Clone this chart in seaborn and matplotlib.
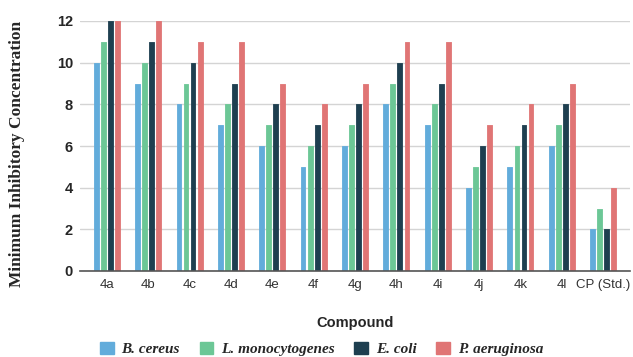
import matplotlib
matplotlib.use("Agg")
import matplotlib.pyplot as plt
import seaborn as sns
import pandas as pd

compounds = ["4a", "4b", "4c", "4d", "4e", "4f", "4g", "4h", "4i", "4j", "4k", "4l", "CP (Std.)"]
b_cereus = [10, 9, 8, 7, 6, 5, 6, 8, 7, 4, 5, 6, 2]
l_monocytogenes = [11, 10, 9, 8, 7, 6, 7, 9, 8, 5, 6, 7, 3]
e_coli = [12, 11, 10, 9, 8, 7, 8, 10, 9, 6, 7, 8, 2]
p_aeruginosa = [12, 12, 11, 11, 9, 8, 9, 11, 11, 7, 8, 9, 4]

organisms = ["B. cereus", "L. monocytogenes", "E. coli", "P. aeruginosa"]
colors = ["#62acdb", "#6cc796", "#1e3f50", "#e07575"]

rows = []
for org, vals in zip(organisms, [b_cereus, l_monocytogenes, e_coli, p_aeruginosa]):
    for c, v in zip(compounds, vals):
        rows.append({"Compound": c, "Organism": org, "MIC": v})
df = pd.DataFrame(rows)

sns.set_theme(style="white")
plt.rcParams["font.family"] = ["Liberation Sans", "DejaVu Sans"]

fig = plt.figure(figsize=(6.33, 3.57), dpi=100)
ax = fig.add_axes([80 / 633, 1 - 271 / 357, 550 / 633, 250 / 357])

sns.barplot(data=df, x="Compound", y="MIC", hue="Organism", order=compounds,
            hue_order=organisms, palette=colors, width=0.68, gap=0.32,
            saturation=1, ax=ax, legend=False)

for p in ax.patches:
    p.set_edgecolor(p.get_facecolor())
    p.set_linewidth(0.6)
    p.set_joinstyle("round")

ax.set_ylim(0, 12)
ax.set_xlim(-0.65, 12.65)
ax.set_yticks([0, 2, 4, 6, 8, 10, 12])
ax.yaxis.grid(True, color="#d4d4d4", linewidth=1)
ax.set_axisbelow(True)
for s in ["top", "right", "left"]:
    ax.spines[s].set_visible(False)
ax.spines["bottom"].set_color("#555555")
ax.spines["bottom"].set_linewidth(1.2)
ax.tick_params(axis="y", length=0, pad=5, labelsize=10.5)
ax.tick_params(axis="x", length=0, pad=6, labelsize=9.5, labelcolor="#333333")
for t in ax.get_yticklabels():
    t.set_fontweight("bold")

ax.set_xlabel("Compound", fontsize=10.5, fontweight="bold")
ax.xaxis.set_label_coords(0.5, -0.18)
ax.set_ylabel("Minimum Inhibitory Concentration", fontsize=12.5, fontweight="bold",
              family=["Liberation Serif", "DejaVu Serif"])
ax.yaxis.set_label_coords(-0.1, 0.47)

handles = [plt.Rectangle((0, 0), 1, 1, color=c) for c in colors]
fig.legend(handles, organisms, loc="center", bbox_to_anchor=(0.508, 1 - 349 / 357),
           ncol=4, frameon=False, handlelength=0.9, handleheight=0.9,
           columnspacing=1.3, handletextpad=0.5,
           prop={"family": ["Liberation Serif", "DejaVu Serif"], "style": "italic",
                 "weight": "bold", "size": 11})

fig.savefig("out.png", dpi=100)
